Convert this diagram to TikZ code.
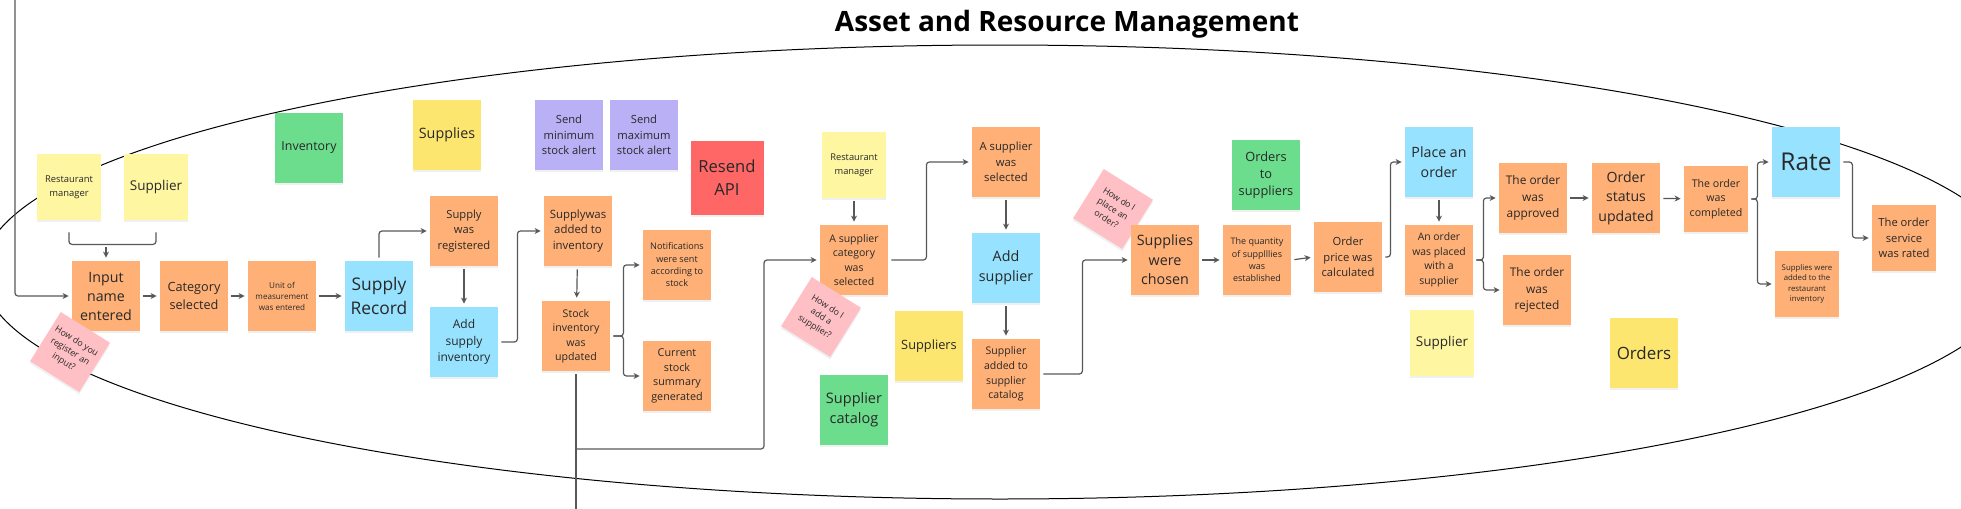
\documentclass[tikz,border=0pt]{standalone}
\usepackage{fontspec}
\setmainfont{Open Sans}
\usepackage{xcolor}
\usepackage{tikz}
\usetikzlibrary{arrows.meta, shadows, calc}
\definecolor{noteorange}{RGB}{255, 176, 118}
\definecolor{noteyellow}{RGB}{255, 246, 162}
\definecolor{notegold}{RGB}{253, 230, 112}
\definecolor{notegreen}{RGB}{108, 221, 140}
\definecolor{noteblue}{RGB}{150, 226, 255}
\definecolor{notepurple}{RGB}{186, 176, 246}
\definecolor{notered}{RGB}{255, 102, 102}
\definecolor{notepink}{RGB}{255, 192, 197}
\definecolor{notetext}{RGB}{40, 40, 40}
\definecolor{flowgray}{RGB}{88, 88, 88}
\newcommand{\stickyfont}[2]{\fontsize{#1}{#2}\selectfont}
\tikzset{
    sticky/.style={
        rectangle, align=center, inner sep=1pt, minimum width=34pt, minimum height=35pt,
        text=notetext, drop shadow={shadow xshift=0pt, shadow yshift=-1.2pt, opacity=0.12}
    },
    smallsticky/.style={minimum width=32pt, minimum height=33pt},
    flow/.style={
        -{Stealth[length=3pt, width=3pt]}, line width=0.6pt, draw=flowgray,
        rounded corners=1.5pt, shorten >=1.5pt, shorten <=1.5pt
    },
    joint/.style={line width=0.6pt, draw=flowgray, rounded corners=1.5pt}
}

\begin{document}
\begin{tikzpicture}[
        x=0.5pt, y=-0.5pt,
        % --- STYLE ---
        orangenote/.style={sticky, fill=noteorange},
        yellownote/.style={sticky, smallsticky, fill=noteyellow},
        goldnote/.style={sticky, fill=notegold},
        greennote/.style={sticky, fill=notegreen},
        bluenote/.style={sticky, fill=noteblue},
        purplenote/.style={sticky, fill=notepurple},
        rednote/.style={sticky, fill=notered, minimum width=36.5pt, minimum height=37pt},
        question/.style={sticky, fill=notepink, minimum width=29pt, minimum height=29pt, rotate=-32, font={\stickyfont{4.4}{6}}}
    ]
    \useasboundingbox (0,0) rectangle (1961,509);
    \clip (0,0) rectangle (1961,509);

    \node[font={\bfseries\stickyfont{14}{16}}, text=black] (title) at (1067,24) {Asset and Resource Management};
    \draw[line width=0.5pt, black] (1000,272) ellipse [x radius=509pt, y radius=113.5pt];

    % ==========================================
    % INPUT AND SUPPLY RECORD
    % ==========================================
    \node[yellownote, font={\stickyfont{4.7}{7}}] (rm1) at (69,187) {Restaurant\\manager};
    \node[yellownote, font={\stickyfont{6.75}{8}}] (sup1) at (156,187) {Supplier};
    \node[greennote, font={\stickyfont{6.2}{7.5}}] (inv) at (309,148) {Inventory};

    \node[orangenote, font={\stickyfont{7.1}{9.5}}] (input) at (106,296) {Input\\name\\entered};
    \node[question] (q1) at (70,352) {How do you\\register an\\input?};
    \node[orangenote, font={\stickyfont{6.35}{8.85}}] (cat) at (194,296) {Category\\selected};
    \node[orangenote, font={\stickyfont{4.05}{5.5}}] (unit) at (282,296) {Unit of\\measurement\\was entered};
    \node[bluenote, font={\stickyfont{8.7}{12}}] (srec) at (379,296) {Supply\\Record};

    % ==========================================
    % INVENTORY AND ALERTS
    % ==========================================
    \node[goldnote, font={\stickyfont{7.15}{8.5}}] (supplies) at (447,135) {Supplies};
    \node[purplenote, font={\stickyfont{5.6}{7.75}}] (minalert) at (569,135) {Send\\minimum\\stock alert};
    \node[purplenote, font={\stickyfont{5.6}{7.75}}] (maxalert) at (644,135) {Send\\maximum\\stock alert};
    \node[rednote, font={\stickyfont{8.3}{11.35}}] (resend) at (727,178) {Resend\\API};

    \node[orangenote, font={\stickyfont{5.6}{7.75}}] (reg) at (464,231) {Supply\\was\\registered};
    \node[bluenote, font={\stickyfont{6}{8.15}}] (addinv) at (464,342) {Add\\supply\\inventory};
    \node[orangenote, font={\stickyfont{5.7}{7.75}}] (added) at (578,231) {Supplywas\\added to\\inventory};
    \node[orangenote, font={\stickyfont{5.3}{7.25}}] (stock) at (576,336) {Stock\\inventory\\was\\updated};
    \node[orangenote, font={\stickyfont{4.55}{6.15}}] (notif) at (677,265) {Notifications\\were sent\\according to\\stock};
    \node[orangenote, font={\stickyfont{5.4}{7.35}}] (summary) at (677,376) {Current\\stock\\summary\\generated};

    % ==========================================
    % SUPPLIERS
    % ==========================================
    \node[yellownote, font={\stickyfont{4.65}{7}}] (rm2) at (854,165) {Restaurant\\manager};
    \node[orangenote, font={\stickyfont{5.25}{7.25}}] (supcat) at (854,260) {A supplier\\category\\was\\selected};
    \node[question] (q2) at (821,317) {How do I\\add a\\supplier?};
    \node[orangenote, font={\stickyfont{5.65}{7.75}}] (supsel) at (1006,162) {A supplier\\was\\selected};
    \node[bluenote, font={\stickyfont{7.15}{9.85}}] (addsup) at (1006,268) {Add\\supplier};
    \node[orangenote, font={\stickyfont{5.25}{7.35}}] (supadd) at (1006,374) {Supplier\\added to\\supplier\\catalog};
    \node[goldnote, font={\stickyfont{6.4}{7.5}}] (suppliers) at (929,346) {Suppliers};
    \node[greennote, font={\stickyfont{7.25}{10}}] (catalog) at (854,410) {Supplier\\catalog};

    % ==========================================
    % ORDERS
    % ==========================================
    \node[question] (q3) at (1113,209) {How do I\\place an\\order?};
    \node[orangenote, font={\stickyfont{7.15}{9.75}}] (chosen) at (1165,260) {Supplies\\were\\chosen};
    \node[orangenote, font={\stickyfont{4.5}{6.15}}] (qty) at (1257,260) {The quantity\\of supplllies\\was\\established};
    \node[greennote, font={\stickyfont{6.4}{8.6}}] (ordsup) at (1266,175) {Orders\\to\\suppliers};
    \node[orangenote, font={\stickyfont{5.6}{7.75}}] (price) at (1348,257) {Order\\price was\\calculated};
    \node[bluenote, font={\stickyfont{7.1}{9.85}}] (place) at (1439,162) {Place an\\order};
    \node[orangenote, font={\stickyfont{5.2}{7.25}}] (placed) at (1439,260) {An order\\was placed\\with a\\supplier};
    \node[yellownote, font={\stickyfont{6.75}{8}}] (sup2) at (1442,343) {Supplier};

    \node[orangenote, font={\stickyfont{5.95}{8.25}}] (approved) at (1533,198) {The order\\was\\approved};
    \node[orangenote, font={\stickyfont{5.95}{8.25}}] (rejected) at (1537,290) {The order\\was\\rejected};
    \node[orangenote, font={\stickyfont{7.05}{9.75}}] (status) at (1626,198) {Order\\status\\updated};
    \node[orangenote, smallsticky, font={\stickyfont{5.3}{7.25}}] (completed) at (1716,199) {The order\\was\\completed};
    \node[bluenote, font={\stickyfont{12.25}{14}}] (rate) at (1806,162) {Rate};
    \node[orangenote, smallsticky, font={\stickyfont{3.9}{5.15}}] (addedrest) at (1807,284) {Supplies were\\added to the\\restaurant\\inventory};
    \node[orangenote, smallsticky, font={\stickyfont{5.6}{7.75}}] (rated) at (1904,238) {The order\\service\\was rated};
    \node[goldnote, font={\stickyfont{8.45}{10}}] (orders) at (1644,353) {Orders};

    % ==========================================
    % CONNECTORS
    % ==========================================
    \coordinate (entryline) at (15,-5);
    \coordinate (managerjoin) at (106,244);
    \draw[flow] (entryline) |- (input.west);
    \draw[joint] ([yshift=-6pt]rm1.south) |- ([yshift=-12pt]sup1.south) -- ([yshift=-6pt]sup1.south);
    \draw[flow] (managerjoin) -- (input.north);
    \draw[flow] (input) -- (cat);
    \draw[flow] (cat) -- (unit);
    \draw[flow] (unit) -- (srec);
    \draw[flow] (srec.north) |- (reg.west);
    \draw[flow] (reg) -- (addinv);
    \draw[flow] (addinv.east) -- ++(19,0) |- (added.west);
    \draw[flow] (added) -- (stock);
    \draw[flow] (stock.east) -- ++(13,0) |- (notif.west);
    \draw[flow] (stock.east) -- ++(13,0) |- (summary.west);

    % stock line leaves the picture, one branch goes to suppliers
    \coordinate (stockexit) at (576,515);
    \coordinate (stockturn) at (576,449);
    \coordinate (catturn) at (764,449);
    \draw[joint, shorten <=1.5pt] (stock.south) -- (stockexit);
    \draw[flow, shorten <=0pt] (stockturn) -- (catturn) |- (supcat.west);

    \draw[flow] (rm2) -- (supcat);
    \draw[flow] (supcat.east) -- ++(38,0) |- (supsel.west);
    \draw[flow] (supsel) -- (addsup);
    \draw[flow] (addsup) -- (supadd);
    \draw[flow] (supadd.east) -- ++(42,0) |- (chosen.west);
    \draw[flow] (chosen) -- (qty);
    \draw[flow] (qty.east) -- (price.west);
    \draw[flow] (price.east) -- ++(8,0) |- (place.west);
    \draw[flow] (place) -- (placed);
    \draw[flow] (placed.east) -- ++(10,0) |- (approved.west);
    \draw[flow] (placed.east) -- ++(10,0) |- (rejected.west);
    \draw[flow] (approved) -- (status);
    \draw[flow] (status) -- (completed);
    \draw[flow] (completed.east) -- ++(9,0) |- (rate.west);
    \draw[flow] (completed.east) -- ++(9,0) |- (addedrest.west);
    \draw[flow] (rate.east) -- ++(12,0) |- (rated.west);
\end{tikzpicture}
\end{document}
